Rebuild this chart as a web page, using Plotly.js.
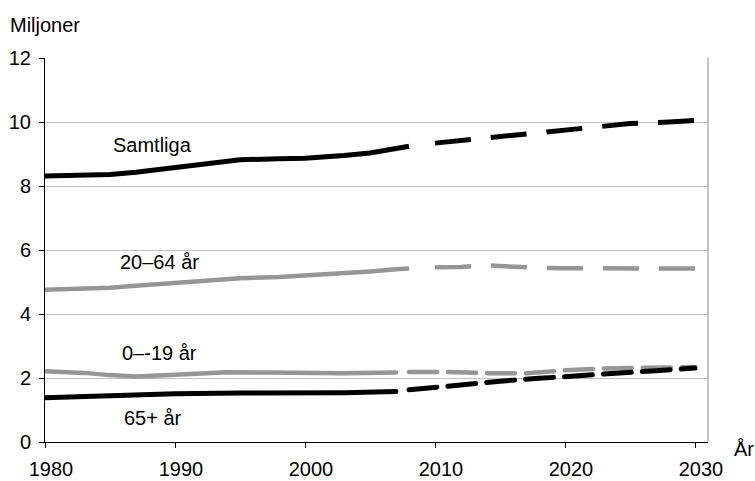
<!DOCTYPE html>
<html>
<head>
<meta charset="utf-8">
<script src="https://cdn.plot.ly/plotly-3.0.1.min.js"></script>
<style>
html,body{margin:0;padding:0;background:#fff;}
#chart{width:755px;height:481px;}
.scatterlayer .trace:nth-child(n+5) .js-line{stroke-linecap:round;}
</style>
</head>
<body>
<div id="chart"></div>
<script>
// Samtliga (total)
var totYears = [1980,1983,1985,1987,1990,1993,1995,1998,2000,2003,2005,2007,2008];
var totVals  = [8.31,8.33,8.36,8.43,8.59,8.72,8.82,8.85,8.87,8.95,9.03,9.17,9.24];
var totProjYears = [2010,2013,2015,2017,2020,2022,2025,2028,2030];
var totProjVals  = [9.34,9.46,9.52,9.60,9.73,9.80,9.95,10.00,10.05];

// 20–64 år
var midYears = [1980,1983,1985,1987,1990,1993,1995,1998,2000,2003,2005,2007,2008];
var midVals  = [4.76,4.78,4.82,4.88,4.97,5.05,5.12,5.16,5.20,5.28,5.33,5.40,5.42];
var midProjYears = [2010,2012,2014,2016,2018,2020,2025,2030];
var midProjVals  = [5.46,5.47,5.52,5.47,5.44,5.43,5.43,5.42];

// 0–19 år
var youngYears = [1980,1983,1985,1987,1990,1994,1997,2000,2003,2007];
var youngVals  = [2.21,2.16,2.09,2.05,2.10,2.18,2.17,2.15,2.15,2.17];
var youngProjYears = [2008,2011,2014,2017,2020,2023,2026,2030];
var youngProjVals  = [2.19,2.19,2.15,2.15,2.24,2.30,2.32,2.34];

// 65+ år
var oldYears = [1980,1985,1990,1995,2000,2003,2007];
var oldVals  = [1.38,1.45,1.51,1.53,1.52,1.54,1.58];
var oldProjYears = [2008,2010,2012,2015,2018,2020,2024,2027,2030];
var oldProjVals  = [1.63,1.71,1.78,1.90,1.99,2.05,2.16,2.23,2.31];

var xTicks = [1980,1990,2000,2010,2020,2030];
var yTicks = [0,2,4,6,8,10,12];

var labels = ['Samtliga','20–64 år','0–-19 år','65+ år'];
var labelX = [1988.3,1988.8,1988.8,1988.3];
var labelY = [9.27,5.62,2.77,0.74];

var BLACK = '#000000', GRAY = '#969696';
var topDash = '36px,20px', lowDash = '28px,11px';

function tr(x, y, color, width, dash){
  return {x:x, y:y, type:'scatter', mode:'lines', hoverinfo:'skip', showlegend:false,
    line:{color:color, width:width, dash:dash}};
}

var data = [
  tr(totYears, totVals, BLACK, 5, 'solid'),
  tr(totProjYears, totProjVals, BLACK, 5, topDash),
  tr(midYears, midVals, GRAY, 4.5, 'solid'),
  tr(midProjYears, midProjVals, GRAY, 4.5, topDash),
  tr(youngYears, youngVals, GRAY, 4.5, 'solid'),
  tr(youngProjYears, youngProjVals, GRAY, 4.5, lowDash),
  tr(oldYears, oldVals, BLACK, 5, 'solid'),
  tr(oldProjYears, oldProjVals, BLACK, 5, lowDash)
];

var font = {family:'Liberation Sans, Arial, sans-serif', size:20, color:'#000'};

var annotations = labels.map(function(t,i){
  return {text:t, x:labelX[i], y:labelY[i], xref:'x', yref:'y', showarrow:false,
    xanchor:'center', yanchor:'middle', font:font};
});
annotations.push({text:'Miljoner', xref:'paper', yref:'paper', x:-0.056, y:1.086,
  xanchor:'left', yanchor:'middle', showarrow:false, font:font});
annotations.push({text:'År', xref:'paper', yref:'paper', x:1.036, y:-0.018,
  xanchor:'left', yanchor:'middle', showarrow:false, font:font});

var layout = {
  width:755, height:481,
  margin:{l:45, r:47, t:58, b:39, pad:0},
  paper_bgcolor:'#fff', plot_bgcolor:'#fff',
  font:font,
  xaxis:{range:[1980,2031], tickvals:xTicks, ticktext:xTicks.map(String),
    showgrid:false, zeroline:false, showline:true, linecolor:'#000', linewidth:1,
    ticks:'outside', ticklen:5, tickcolor:'#000', tickfont:font, fixedrange:true,
    ticklabelstandoff:4, ticklabelshift:6},
  yaxis:{range:[0,12], tickvals:yTicks, ticktext:yTicks.map(String),
    showgrid:true, gridcolor:'#c0c0c0', gridwidth:1, zeroline:false,
    showline:true, linecolor:'#000', linewidth:1,
    ticks:'outside', ticklen:5, tickcolor:'#000', tickfont:font, fixedrange:true,
    ticklabelstandoff:4},
  shapes:[{type:'line', xref:'paper', yref:'paper', x0:1, x1:1, y0:0, y1:1,
    line:{color:'#b0b0b0', width:1.5}}],
  annotations:annotations
};

Plotly.newPlot('chart', data, layout, {displayModeBar:false, staticPlot:true});
</script>
</body>
</html>
